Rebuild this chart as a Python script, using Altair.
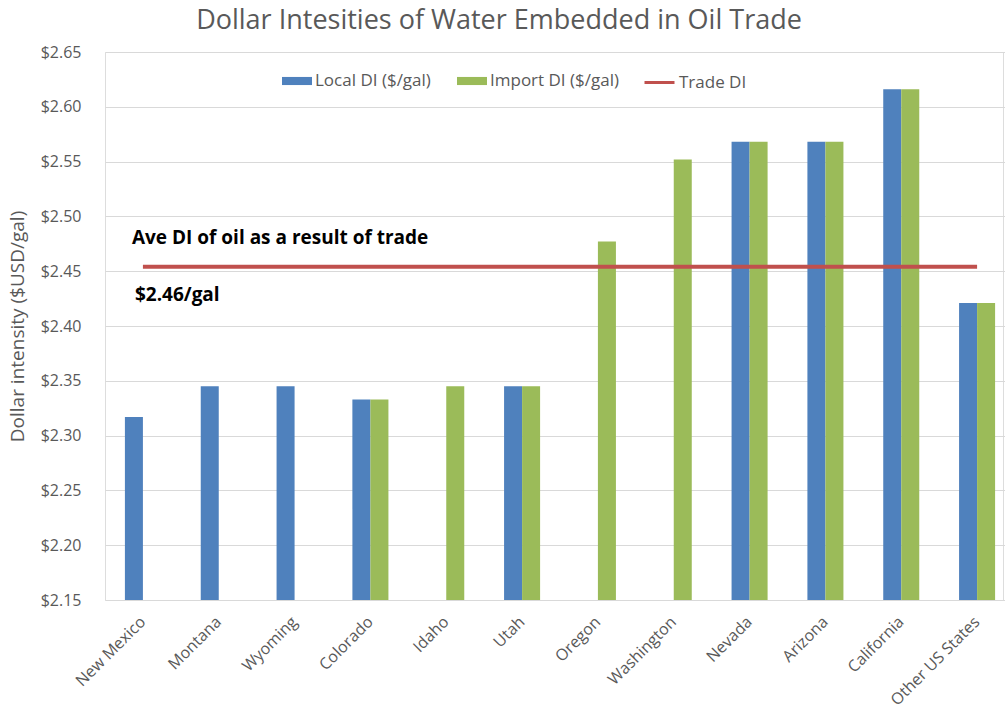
import altair as alt
import pandas as pd

STATES = ["New Mexico", "Montana", "Wyoming", "Colorado", "Idaho", "Utah",
          "Oregon", "Washington", "Nevada", "Arizona", "California", "Other US States"]
LOCAL_DI = [2.317, 2.345, 2.345, 2.333, None, 2.345, None, None, 2.568, 2.568, 2.616, 2.421]
IMPORT_DI = [None, None, None, 2.333, 2.345, 2.345, 2.477, 2.552, 2.568, 2.568, 2.616, 2.421]
TRADE_DI = [2.454, 2.454, 2.454, 2.454, 2.454, 2.454, 2.454, 2.454, 2.454, 2.454, 2.454, 2.454]
SERIES = ["Local DI ($/gal)", "Import DI ($/gal)", "Trade DI"]
COLORS = ["#4f81bd", "#9bbb59", "#c0504d"]
Y_TICKS = [2.15, 2.20, 2.25, 2.30, 2.35, 2.40, 2.45, 2.50, 2.55, 2.60, 2.65]
NOTE_1 = "Ave  DI of oil as a result of trade"
NOTE_2 = "$2.46/gal"
NOTE_1_Y = 2.475
NOTE_2_Y = 2.423

FONT = "Open Sans"
GRAY = "#595959"
Y_MIN, Y_MAX = Y_TICKS[0], Y_TICKS[-1]

rows = []
for s, l, i in zip(STATES, LOCAL_DI, IMPORT_DI):
    if l is not None:
        rows.append({"state": s, "series": SERIES[0], "value": l})
    if i is not None:
        rows.append({"state": s, "series": SERIES[1], "value": i})
bars_df = pd.DataFrame(rows)
line_df = pd.DataFrame({"state": STATES, "series": SERIES[2], "value": TRADE_DI})

x_scale = alt.Scale(domain=STATES, range=[0, 910], paddingInner=0.525, paddingOuter=0.2625)
y_scale = alt.Scale(domain=[Y_MIN, Y_MAX], zero=False, nice=False)

bar_legend = alt.Legend(
    title=None, orient="none", direction="horizontal", legendX=177, legendY=14,
    labelFont=FONT, labelFontSize=17, labelColor=GRAY, symbolSize=900,
    symbolType="M-1,-0.27H1V0.27H-1Z", symbolStrokeWidth=0,
    columnPadding=26, labelOffset=3, padding=0,
)
line_legend = alt.Legend(
    title=None, orient="none", direction="horizontal", legendX=538, legendY=14,
    labelFont=FONT, labelFontSize=17, labelColor=GRAY, symbolSize=900,
    symbolType="stroke", symbolStrokeWidth=3, labelOffset=3, padding=0,
)

x_axis = alt.Axis(title=None, labelAngle=-45, labelAlign="right", labelBaseline="middle",
                  labelPadding=19, labelFont=FONT, labelFontSize=16, labelColor=GRAY,
                  ticks=False, domain=False, grid=False)
y_axis = alt.Axis(title="Dollar intensity ($USD/gal)", values=Y_TICKS, format="$.2f",
                  labelFont=FONT, labelFontSize=16, labelColor=GRAY, labelPadding=24,
                  titleFont=FONT, titleFontSize=19, titleColor=GRAY, titleFontWeight="normal",
                  titlePadding=13, ticks=False, domain=False, grid=True,
                  gridColor="#d9d9d9", gridWidth=1)

bars = alt.Chart(bars_df).mark_bar().encode(
    x=alt.X("state:N", scale=x_scale, sort=STATES, axis=x_axis),
    xOffset=alt.XOffset("series:N", scale=alt.Scale(domain=SERIES[:2])),
    y=alt.Y("value:Q", scale=y_scale, axis=y_axis),
    y2=alt.datum(Y_MIN),
    color=alt.Color("series:N", scale=alt.Scale(domain=SERIES[:2], range=COLORS[:2]), legend=bar_legend),
)

line = alt.Chart(line_df).mark_line(strokeWidth=4).encode(
    x=alt.X("state:N", scale=x_scale, sort=STATES),
    y=alt.Y("value:Q", scale=y_scale),
    stroke=alt.Stroke("series:N", scale=alt.Scale(domain=SERIES[2:], range=COLORS[2:]), legend=line_legend),
)

note1 = alt.Chart(pd.DataFrame({"state": [STATES[0]], "value": [NOTE_1_Y], "t": [NOTE_1]})).mark_text(
    align="left", baseline="alphabetic", dx=-11, font=FONT, fontSize=19, fontWeight="bold", color="black"
).encode(x=alt.X("state:N", scale=x_scale, sort=STATES), y=alt.Y("value:Q", scale=y_scale), text="t:N")

note2 = alt.Chart(pd.DataFrame({"state": [STATES[0]], "value": [NOTE_2_Y], "t": [NOTE_2]})).mark_text(
    align="left", baseline="alphabetic", dx=-8, font=FONT, fontSize=19, fontWeight="bold", color="black"
).encode(x=alt.X("state:N", scale=x_scale, sort=STATES), y=alt.Y("value:Q", scale=y_scale), text="t:N")

chart = alt.layer(bars, line, note1, note2).properties(
    width=898, height=548,
    padding={"left": 105, "top": 52, "right": 2, "bottom": 112},
    autosize="none",
    title=alt.TitleParams("Dollar Intesities of Water Embedded in Oil Trade", anchor="middle",
                          frame="group", dx=-55, offset=9, font=FONT, fontSize=27,
                          fontWeight="normal", color=GRAY),
).configure_view(stroke=None).configure(background="white")

chart.save("out.html", embed_options={"renderer": "svg", "actions": False})
